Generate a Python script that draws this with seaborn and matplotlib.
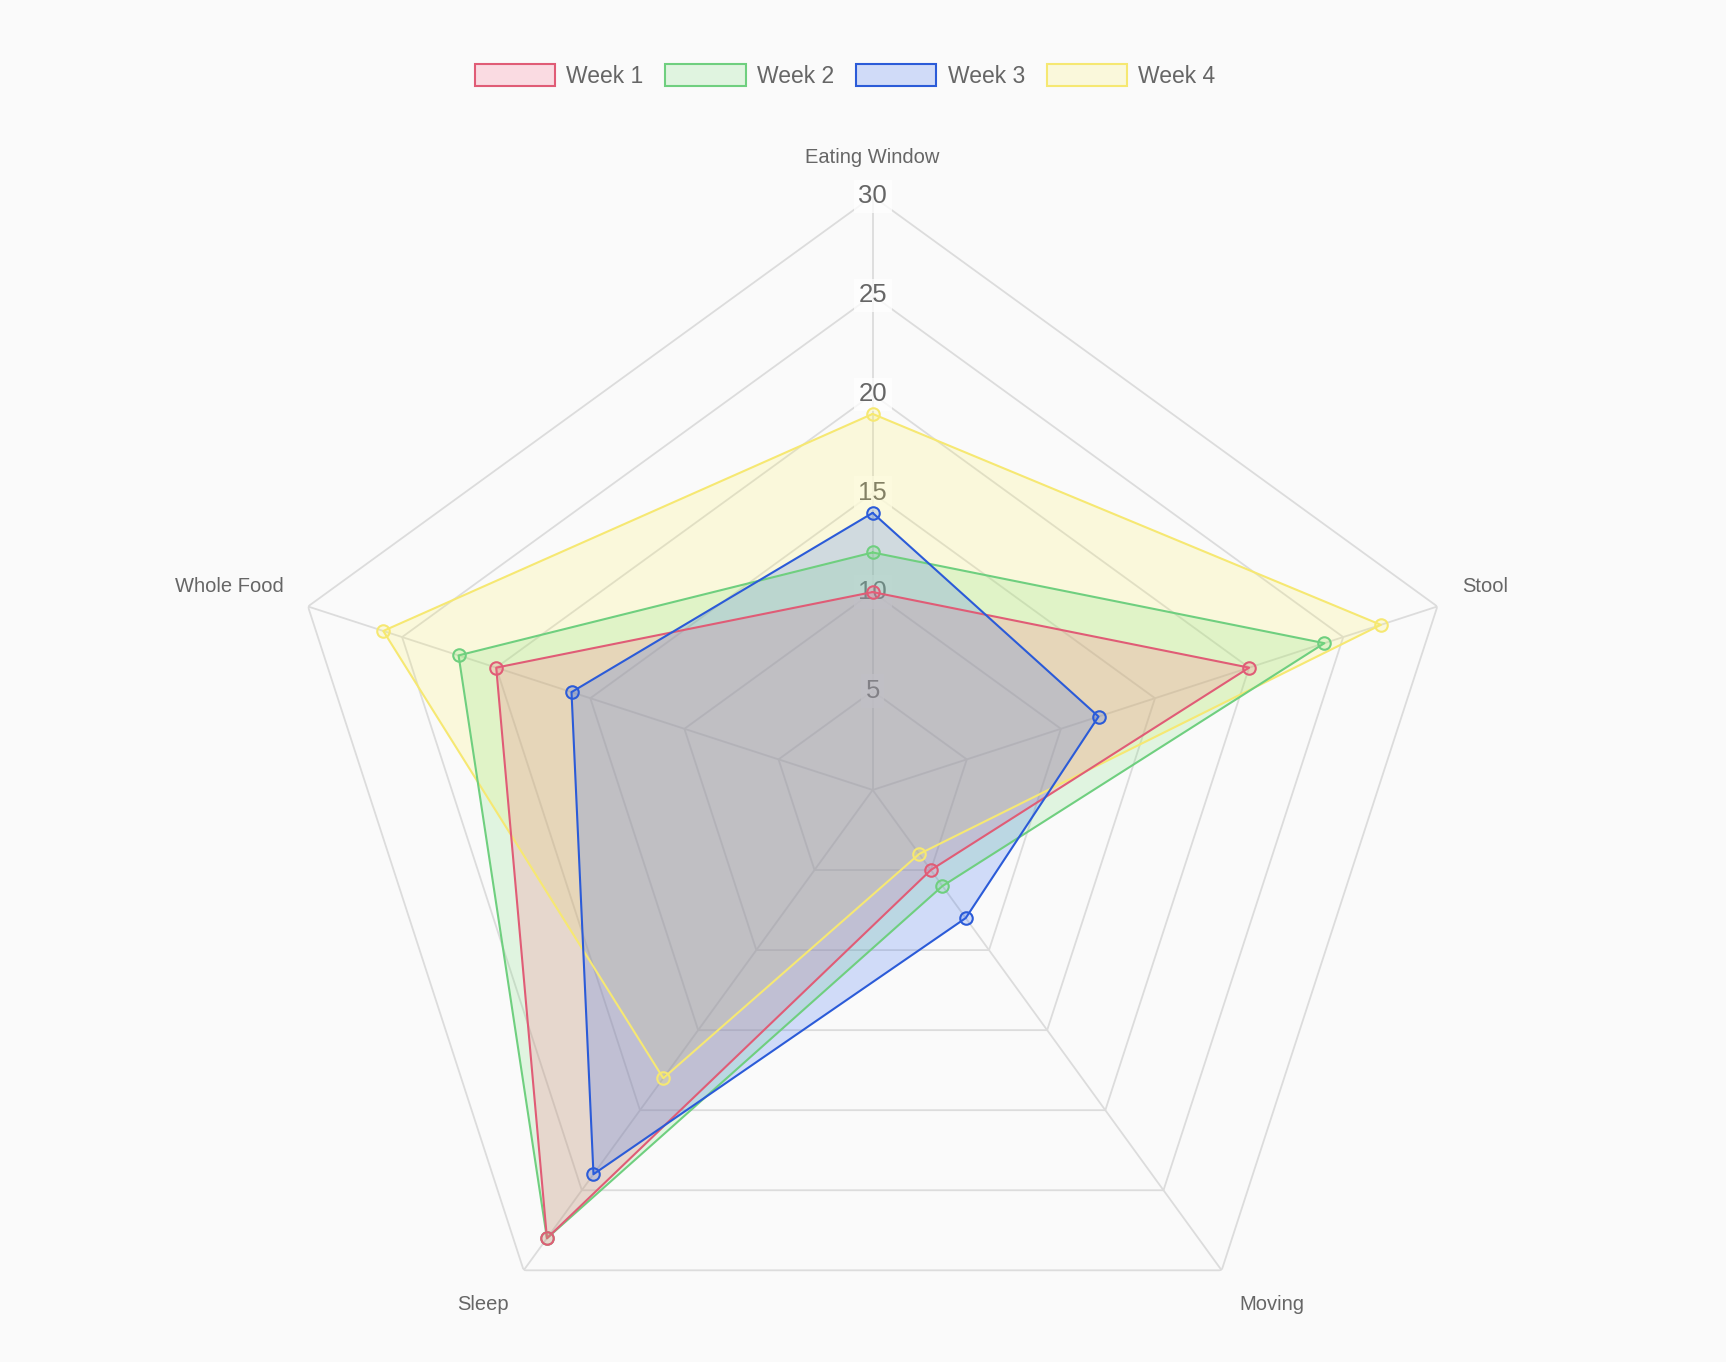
import numpy as np
import pandas as pd
import matplotlib
matplotlib.use("Agg")
import matplotlib.pyplot as plt
import seaborn as sns
from matplotlib.patches import Patch

categories = ["Eating Window", "Stool", "Moving", "Sleep", "Whole Food"]
weeks = ["Week 1", "Week 2", "Week 3", "Week 4"]
week1 = [10, 20, 5, 28, 20]
week2 = [12, 24, 6, 28, 22]
week3 = [14, 12, 8, 24, 16]
week4 = [19, 27, 4, 18, 26]
ticks = [5, 10, 15, 20, 25, 30]

line_colors = ["#e05c76", "#6fcf7f", "#2b5bd8", "#f6e872"]
fill_colors = [(1.0, 0.39, 0.52, 0.2), (0.47, 0.88, 0.47, 0.2),
               (0.16, 0.39, 0.94, 0.2), (0.98, 0.94, 0.39, 0.2)]
layer = [2.2, 2.1, 2.3, 2.0]

sns.set_theme(style="white")
plt.rcParams["font.family"] = ["Liberation Sans", "DejaVu Sans"]

n = len(categories)
theta = np.linspace(0, 2 * np.pi, n, endpoint=False)
rows = []
for w, vals in zip(weeks, [week1, week2, week3, week4]):
    for i in list(range(n)) + [0]:
        rows.append({"week": w, "theta": theta[i], "value": vals[i]})
df = pd.DataFrame(rows)

fig = plt.figure(figsize=(17.26, 13.62), dpi=100, facecolor="#fafafa")
ax = fig.add_axes([0.1616, -0.016, 0.688, 0.872], projection="polar")
ax.set_theta_offset(np.pi / 2)
ax.set_theta_direction(-1)
ax.set_ylim(0, 30)
ax.grid(False)
ax.spines["polar"].set_visible(False)
ax.set_xticks([])
ax.set_yticks([])
ax.patch.set_alpha(0)

grid_c = "#dcdcdc"
th_closed = np.append(theta, theta[0])
for t in ticks:
    ax.plot(th_closed, [t] * (n + 1), color=grid_c, lw=1.3, zorder=0.5)
for th in theta:
    ax.plot([th, th], [0, 30], color=grid_c, lw=1.3, zorder=0.5)

for t in ticks:
    ax.text(0, t, str(t), ha="center", va="center", fontsize=18.5, color="#666666",
            bbox=dict(boxstyle="square,pad=0.18", fc="white", ec="none", alpha=0.75), zorder=1)

# category labels
offsets = [((0, 27.7), "center", "center"), ((18, 14.3), "left", "center"),
           ((12.7, -24.5), "left", "center"), ((-10.8, -24.5), "right", "center"),
           ((-17.4, 14.3), "right", "center")]
for th, lab, (off, ha, va) in zip(theta, categories, offsets):
    ax.annotate(lab, xy=(th, 30), xytext=off, textcoords="offset points",
                ha=ha, va=va, fontsize=14.5, color="#666666", annotation_clip=False)

for k, (w, vals) in enumerate(zip(weeks, [week1, week2, week3, week4])):
    v = np.append(vals, vals[0])
    ax.fill(th_closed, v, color=fill_colors[k], lw=0, zorder=layer[k])
    sub = df[df["week"] == w]
    sns.lineplot(data=sub, x="theta", y="value", color=line_colors[k], sort=False,
                 estimator=None, lw=1.5, ax=ax, legend=False, zorder=3 + layer[k])
    ax.plot(theta, vals, ls="none", marker="o", ms=9, mfc=fill_colors[k],
            mec=line_colors[k], mew=1.5, zorder=6 + layer[k])

handles = [Patch(facecolor=fill_colors[k], edgecolor=line_colors[k], lw=1.5) for k in range(4)]
leg = fig.legend(handles, weeks, loc="center", bbox_to_anchor=(845 / 1726, 1 - 76 / 1362),
                 ncol=4, frameon=False, fontsize=16.5, handlelength=3.5, handleheight=1.05,
                 handletextpad=0.5, columnspacing=0.95)
for txt in leg.get_texts():
    txt.set_color("#666666")

fig.savefig("out.png", dpi=100, facecolor=fig.get_facecolor())
